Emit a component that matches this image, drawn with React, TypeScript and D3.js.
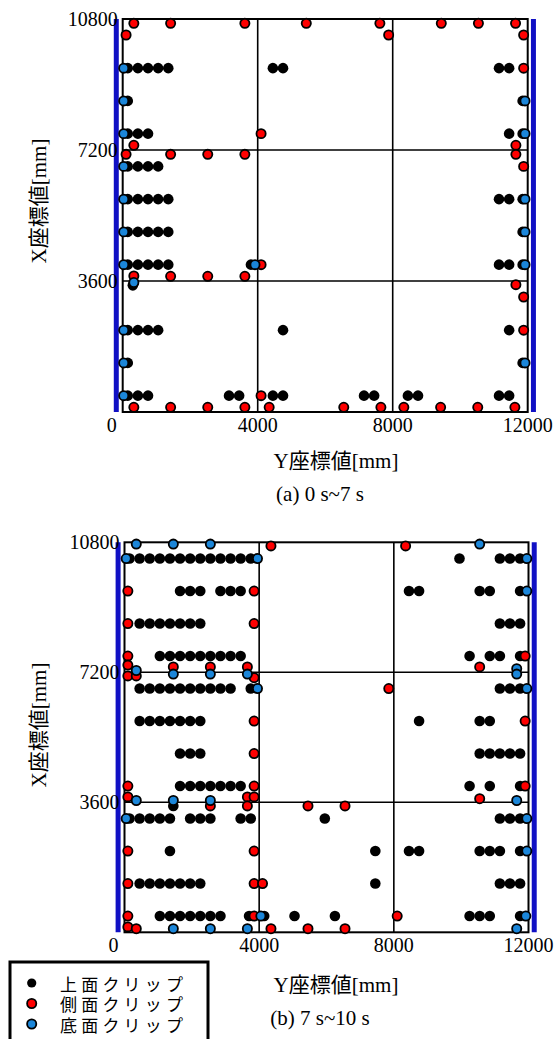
import React from 'react';
import * as d3 from 'd3';

const xTicks = [0, 4000, 8000, 12000];
const yTicks = [3600, 7200, 10800];
const walls = [-190, 12170];
const legendLabels = ['上面クリップ', '側面クリップ', '底面クリップ'];
const colors = ['#000000', '#ff0000', '#1b86d9'];

// (a) 0 s~7 s
// top clips, one row per X座標: [X, list of Y]
const aTopRows: [number, number[]][] = [
  [9450, [150, 450, 750, 1050, 1350, 4450, 4750, 11150, 11450]],
  [8550, [150, 11850]],
  [7650, [150, 450, 750, 11450, 11850]],
  [6750, [150, 450, 750, 1050]],
  [5850, [150, 450, 750, 1050, 1350, 11150, 11450, 11850]],
  [4950, [150, 450, 750, 1050, 1350, 11850]],
  [4050, [150, 450, 750, 1050, 1350, 3800, 11150, 11450, 11850]],
  [3480, [300]],
  [2250, [150, 450, 750, 1050, 4750, 11450]],
  [1350, [150, 11850]],
  [450, [150, 450, 750, 3150, 3450, 4450, 4750, 7150, 7450, 8450, 8750, 11150, 11450]],
];
// side clips [Y, X]
const aSide: [number, number][] = [
  [330, 10680], [1420, 10680], [3620, 10680], [5440, 10680], [7620, 10680], [9440, 10680], [10540, 10680], [11640, 10680],
  [100, 10360], [7880, 10360], [11880, 10360],
  [11880, 9450],
  [4100, 7650],
  [330, 7330], [11650, 7330],
  [100, 7080], [1420, 7080], [2520, 7080], [3620, 7080], [11650, 7080],
  [11880, 6750],
  [4100, 4050],
  [330, 3740], [1420, 3730], [2520, 3730], [3620, 3730],
  [11650, 3500],
  [11880, 3160],
  [11880, 2250],
  [4100, 450],
  [330, 130], [1420, 130], [2520, 130], [3620, 130], [4340, 130], [6550, 130], [7650, 130], [8330, 130], [9420, 130], [10520, 130], [11620, 130],
];
// bottom clips [Y, X]
const aBottom: [number, number][] = [
  [30, 9450], [30, 8550], [30, 7650], [30, 6750], [30, 5850], [30, 4950], [30, 4050], [30, 2250], [30, 1350], [30, 450],
  [330, 3560], [3920, 4050],
  [11920, 8550], [11920, 7650], [11920, 5850], [11920, 4950], [11920, 4050], [11920, 1350],
];

// (b) 7 s~10 s
const bTopRows: [number, number[]][] = [
  [10350, [150, 450, 750, 1050, 1350, 1650, 1950, 2250, 2550, 2850, 3150, 3450, 3750, 9950, 11150, 11450, 11750]],
  [9450, [1650, 1950, 2250, 2850, 3150, 3450, 8450, 8750, 10550, 10850, 11750]],
  [8550, [450, 750, 1050, 1350, 1650, 1950, 2250, 11150, 11450, 11750]],
  [7650, [1050, 1350, 1650, 1950, 2250, 2550, 2850, 3150, 3450, 10250, 10850, 11150, 11750]],
  [6750, [450, 750, 1050, 1350, 1650, 1950, 2250, 2550, 2850, 3150, 3750, 11150, 11450, 11750]],
  [5850, [450, 750, 1050, 1350, 1650, 1950, 2250, 8750, 10550, 10850]],
  [4950, [1650, 1950, 2250, 10550, 10850, 11150, 11450, 11750]],
  [4050, [1650, 1950, 2250, 2550, 2850, 3150, 3450, 10250, 10850, 11750]],
  [3500, [1450]],
  [3150, [150, 450, 750, 1050, 1350, 1950, 2250, 2550, 3450, 3750, 5950, 11150, 11450, 11750]],
  [2250, [1350, 7450, 8450, 8750, 10550, 10850, 11150, 11750]],
  [1350, [450, 750, 1050, 1350, 1650, 1950, 2250, 7450, 11150, 11450, 11750]],
  [450, [1050, 1350, 1650, 1950, 2250, 2550, 2850, 3700, 4150, 5050, 6250, 10250, 10550, 10850, 11750]],
];
const bSide: [number, number][] = [
  [4350, 10700], [8350, 10700],
  [100, 9450], [3850, 9450],
  [100, 8550], [3850, 8550],
  [100, 7650], [11900, 7650],
  [100, 7400], [100, 7100], [350, 7100],
  [1450, 7350], [2550, 7350], [3650, 7350], [3850, 7050],
  [10550, 7350],
  [7850, 6750],
  [3850, 5850], [11900, 5850],
  [3850, 4950],
  [100, 4050], [3850, 4050], [11900, 4050],
  [100, 3750], [3650, 3750], [3850, 3750], [10550, 3700],
  [2550, 3500], [3650, 3500], [5450, 3500], [6550, 3500],
  [100, 2250], [3850, 2250],
  [100, 1350], [3850, 1350], [4100, 1350],
  [100, 450], [3850, 450], [8100, 450],
  [100, 150], [350, 100], [4350, 100], [5450, 100], [6550, 100],
];
const bBottom: [number, number][] = [
  [350, 10750], [1450, 10750], [2550, 10750], [10550, 10750],
  [50, 10350], [3950, 10350], [11950, 10350],
  [11950, 9450],
  [350, 7250], [1450, 7150], [2550, 7150], [3650, 7150],
  [11650, 7300], [11650, 7150],
  [3950, 6750], [11950, 6750],
  [350, 3650], [1450, 3650], [2550, 3650], [11650, 3650],
  [50, 3150], [11950, 3150],
  [11950, 2250],
  [4050, 450], [11920, 450],
  [1450, 100], [2550, 100], [3650, 100], [11650, 100],
];

const serif = '"Liberation Serif", "Times New Roman", serif';
const cjk = '"Liberation Serif", "Noto Sans CJK JP", sans-serif';

type PanelProps = {
  left: number; right: number; top: number; bottom: number;
  topRows: [number, number[]][];
  side: [number, number][];
  bot: [number, number][];
  title: string;
  axisTitleDy: number; titleDy: number; xLabelCy: number;
};

function Panel(p: PanelProps) {
  const x = d3.scaleLinear().domain([0, 12000]).range([p.left, p.right]);
  const y = d3.scaleLinear().domain([0, 10800]).range([p.bottom, p.top]);
  const blacks = p.topRows.flatMap(([xv, ys]) => ys.map(yv => [yv, xv]));

  return (
    <g>
      {walls.map(w => (
        <line key={w} x1={x(w)} x2={x(w)} y1={p.top} y2={p.bottom} stroke="#1010c4" strokeWidth={5} />
      ))}
      {xTicks.slice(1, -1).map(t => (
        <line key={'gx' + t} x1={x(t)} x2={x(t)} y1={p.top} y2={p.bottom} stroke="#000" strokeWidth={1.6} />
      ))}
      {yTicks.slice(0, -1).map(t => (
        <line key={'gy' + t} x1={p.left} x2={p.right} y1={y(t)} y2={y(t)} stroke="#000" strokeWidth={1.6} />
      ))}
      <rect x={p.left} y={p.top} width={p.right - p.left} height={p.bottom - p.top} fill="none" stroke="#000" strokeWidth={2} />

      {blacks.map((d, i) => (
        <circle key={'k' + i} cx={x(d[0])} cy={y(d[1])} r={5.3} fill={colors[0]} />
      ))}
      {p.side.map((d, i) => (
        <circle key={'r' + i} cx={x(d[0])} cy={y(d[1])} r={4.6} fill={colors[1]} stroke="#000" strokeWidth={1.8} />
      ))}
      {p.bot.map((d, i) => (
        <circle key={'b' + i} cx={x(d[0])} cy={y(d[1])} r={4.6} fill={colors[2]} stroke="#000" strokeWidth={1.8} />
      ))}

      {xTicks.map(t => (
        <text key={'tx' + t} x={x(t) + (t === 0 ? -11 : 0)} y={p.bottom + 13} textAnchor="middle"
          dominantBaseline="central" fontFamily={serif} fontSize={20}>{t}</text>
      ))}
      {yTicks.map(t => (
        <text key={'ty' + t} x={p.left - 5} y={y(t)} textAnchor="end"
          dominantBaseline="central" fontFamily={serif} fontSize={20}>{t}</text>
      ))}
      <text x={336} y={p.bottom + p.axisTitleDy} textAnchor="middle" dominantBaseline="central"
        fontFamily={cjk} fontSize={21}>Y座標値[mm]</text>
      <text x={320} y={p.bottom + p.titleDy} textAnchor="middle" dominantBaseline="central"
        fontFamily={serif} fontSize={21}>{p.title}</text>
      <text transform={`translate(39,${p.xLabelCy}) rotate(-90)`} textAnchor="middle" dominantBaseline="central"
        fontFamily={cjk} fontSize={21}>X座標値[mm]</text>
    </g>
  );
}

export default function App() {
  const legendY = [983, 1003.5, 1024];
  return (
    <svg width={557} height={1039} style={{ position: 'absolute', left: 0, top: 0, background: '#fff' }}>
      <Panel left={122.7} right={527.7} top={19} bottom={412}
        topRows={aTopRows} side={aSide} bot={aBottom}
        title="(a) 0 s~7 s" axisTitleDy={49} titleDy={82} xLabelCy={201} />
      <Panel left={124.5} right={528.5} top={542.3} bottom={932.3}
        topRows={bTopRows} side={bSide} bot={bBottom}
        title="(b) 7 s~10 s" axisTitleDy={53} titleDy={86} xLabelCy={725} />
      <rect x={10} y={962} width={198} height={100} fill="#fff" stroke="#000" strokeWidth={3} />
      {legendLabels.map((l, i) => (
        <g key={l}>
          <circle cx={31.7} cy={legendY[i]} r={4.6} fill={colors[i]} stroke="#000" strokeWidth={i === 0 ? 0 : 1.8} />
          <text x={60} y={legendY[i]} dominantBaseline="central" fontFamily='"Noto Sans CJK JP", sans-serif'
            fontSize={17} letterSpacing={4.2}>{l}</text>
        </g>
      ))}
    </svg>
  );
}
